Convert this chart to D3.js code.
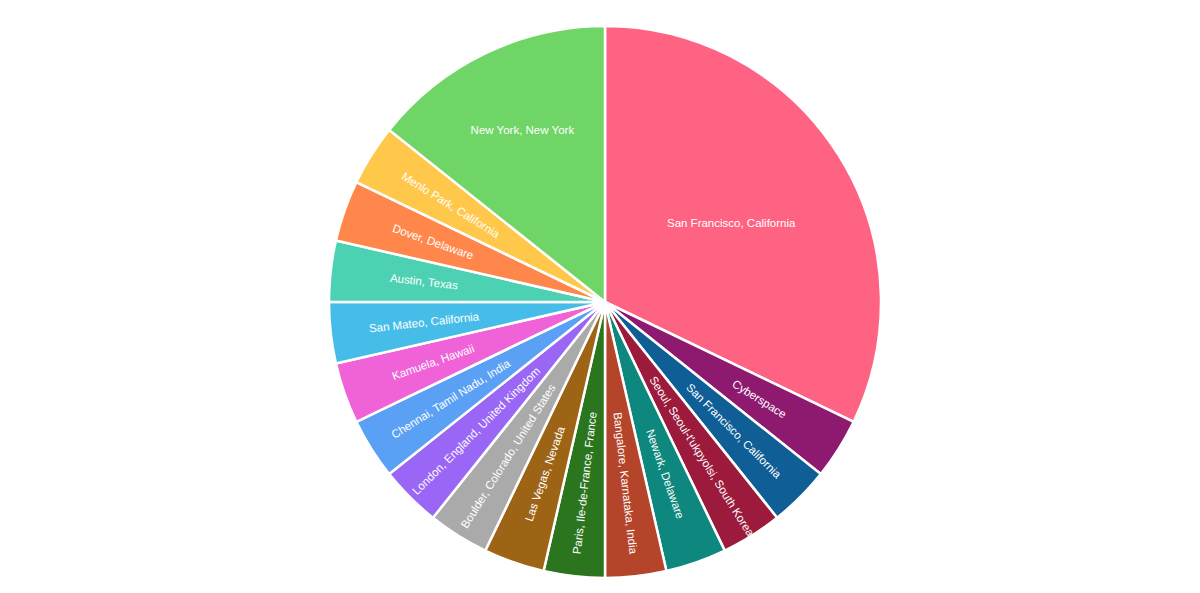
<!DOCTYPE html>
<html><head><meta charset="utf-8">
<script src="https://cdn.jsdelivr.net/npm/d3@7"></script>
<style>body{margin:0;background:#fff}</style></head>
<body><svg id="c" width="1200" height="593"></svg>
<script>
const labels = ["San Francisco, California","Cyberspace","San Francisco, California","Seoul, Seoul-t'ukpyolsi, South Korea","Newark, Delaware","Bangalore, Karnataka, India","Paris, Ile-de-France, France","Las Vegas, Nevada","Boulder, Colorado, United States","London, England, United Kingdom","Chennai, Tamil Nadu, India","Kamuela, Hawaii","San Mateo, California","Austin, Texas","Dover, Delaware","Menlo Park, California","New York, New York"];
const values = [9,1,1,1,1,1,1,1,1,1,1,1,1,1,1,1,4];
const colors = ["#ff6384","#8e1a6f","#0f5e96","#9c1b3c","#0e877e","#b4442a","#2b751f","#9e6416","#aaaaaa","#9a66f5","#5aa0f5","#f062d8","#46bde9","#4dd1b3","#ff874c","#ffc84a","#6fd566"];
const cx=605, cy=302, R=276;
const svg=d3.select("#c"), g=svg.append("g").attr("transform",`translate(${cx},${cy})`);
const arcs=d3.pie().sort(null).value(d=>d)(values);
const arc=d3.arc().innerRadius(0).outerRadius(R);
g.selectAll("path").data(arcs).join("path").attr("d",arc)
 .attr("fill",(d,i)=>colors[i]).attr("stroke","#fff").attr("stroke-width",2.5);
g.selectAll("text").data(arcs).join("text").each(function(d,i){
  const a=(d.startAngle+d.endAngle)/2, deg=a*180/Math.PI;
  const big=values[i]>=4;
  const r=i===0?R*0.54:(big?R*0.69:R*0.66);
  const x=Math.sin(a)*r, y=-Math.cos(a)*r;
  let rot=0;
  if(!big) rot = deg<180 ? deg-90 : deg+90;
  d3.select(this).attr("transform",`translate(${x},${y}) rotate(${rot})`)
   .attr("text-anchor","middle").attr("dominant-baseline","central")
   .attr("fill","#fff").attr("font-family","Helvetica, Arial, sans-serif").attr("font-size",11.5)
   .text(labels[i]);
});
</script></body></html>
